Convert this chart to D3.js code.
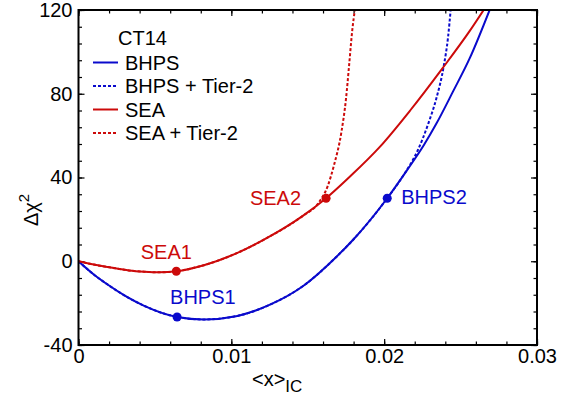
<!DOCTYPE html>
<html>
<head>
<meta charset="utf-8">
<script src="https://cdn.jsdelivr.net/npm/d3@7"></script>
<style>
  body { margin: 0; background: #fff; }
  text { font-family: "Liberation Sans", Arial, sans-serif; }
</style>
</head>
<body>
<svg id="chart"></svg>
<script>
// curves: <x>_IC vs delta chi^2
let bhpsX = [0, 0.001, 0.002, 0.003, 0.0043, 0.00645, 0.0082, 0.0104, 0.0126, 0.0147, 0.0169, 0.018, 0.0202, 0.0215, 0.0226, 0.0234, 0.0245, 0.0256, 0.0269]
let bhpsY = [0, -6.3, -11.6, -16.3, -21.3, -26.6, -27.8, -26.1, -20.5, -11.8, 2.3, 10.5, 30.1, 43.5, 55.5, 65.5, 81, 97, 120]

let bhpsT2X = [0, 0.001, 0.002, 0.003, 0.0043, 0.00645, 0.0082, 0.0104, 0.0126, 0.0147, 0.0169, 0.018, 0.0202, 0.0213, 0.0222, 0.0229, 0.0234, 0.0239, 0.02418, 0.02435]
let bhpsT2Y = [0, -6.3, -11.6, -16.3, -21.3, -26.6, -27.8, -26.1, -20.5, -11.8, 2.3, 10.5, 30.1, 41.5, 53, 66, 77.4, 93.3, 107, 120]

let seaX = [0, 0.001, 0.0021, 0.0033, 0.0043, 0.0053, 0.0064, 0.0082, 0.0104, 0.0126, 0.0147, 0.0162, 0.0178, 0.0197, 0.0217, 0.0238, 0.0256, 0.0266]
let seaY = [0, -1.6, -3.0, -4.4, -5.0, -5.3, -4.8, -1.9, 4.0, 12.2, 21.8, 30.1, 40.7, 54.5, 72, 92, 110, 121]

let seaT2X = [0, 0.001, 0.0021, 0.0033, 0.0043, 0.0053, 0.0064, 0.0082, 0.0104, 0.0126, 0.0147, 0.0157, 0.0163, 0.0167, 0.0172, 0.0175, 0.0177, 0.0179, 0.0181]
let seaT2Y = [0, -1.6, -3.0, -4.4, -5.0, -5.3, -4.8, -1.9, 4.0, 12.2, 21.8, 27.8, 35.8, 45.4, 61.6, 77.4, 93.1, 109.4, 121]

// the labelled points
let pointNames = ['SEA1', 'SEA2', 'BHPS1', 'BHPS2']
let pointX = [0.0064, 0.0162, 0.00645, 0.0202]
let pointY = [-4.8, 30.1, -26.6, 30.1]

let legendLabels = ['BHPS', 'BHPS + Tier-2', 'SEA', 'SEA + Tier-2']

let xMajor = [0, 0.01, 0.02, 0.03]
let yMajor = [-40, 0, 40, 80, 120]

let blue = '#0a0acc'
let red = '#cc0a0a'

let width = 569
let height = 396
let mLeft = 78.5, mRight = 537, mTop = 10, mBottom = 345

let svg = d3.select('#chart').attr('width', width).attr('height', height)

let xScale = d3.scaleLinear().domain([0, 0.03]).range([mLeft, mRight])
let yScale = d3.scaleLinear().domain([-40, 120]).range([mBottom, mTop])

let xMinor = d3.range(0, 0.0301, 0.002)
let yMinor = d3.range(-40, 121, 8)

// ticks, all pointing inward
let drawAxis = (axis, tx, ty) => {
    let g = svg.append('g').attr('transform', 'translate(' + tx + ',' + ty + ')').call(axis)
    g.select('.domain').remove()
    g.selectAll('line').attr('stroke', '#000').attr('stroke-width', 1.2)
    g.selectAll('text').attr('font-size', 20).attr('fill', '#000')
        .style('font-family', '"Liberation Sans", Arial, sans-serif')
    return g
}

let fmtX = (d) => d === 0 ? '0' : d3.format('.2f')(d)
let fmtY = (d) => String(d)

drawAxis(d3.axisBottom(xScale).tickValues(xMinor).tickSize(-3.5).tickFormat(''), 0, mBottom)
drawAxis(d3.axisBottom(xScale).tickValues(xMajor).tickSize(-6).tickPadding(4).tickFormat(fmtX), 0, mBottom)
drawAxis(d3.axisTop(xScale).tickValues(xMinor).tickSize(-3.5).tickFormat(''), 0, mTop)
drawAxis(d3.axisTop(xScale).tickValues(xMajor).tickSize(-6).tickFormat(''), 0, mTop)
drawAxis(d3.axisLeft(yScale).tickValues(yMinor).tickSize(-3.5).tickFormat(''), mLeft, 0)
drawAxis(d3.axisLeft(yScale).tickValues(yMajor).tickSize(-6).tickPadding(6).tickFormat(fmtY), mLeft, 0)
drawAxis(d3.axisRight(yScale).tickValues(yMinor).tickSize(-3.5).tickFormat(''), mRight, 0)
drawAxis(d3.axisRight(yScale).tickValues(yMajor).tickSize(-6).tickFormat(''), mRight, 0)

// clip curves to the frame
svg.append('clipPath').attr('id', 'plot-clip')
   .append('rect').attr('x', mLeft).attr('y', mTop).attr('width', mRight - mLeft).attr('height', mBottom - mTop)

let line = d3.line()
    .x((d) => xScale(d[0]))
    .y((d) => yScale(d[1]))
    .curve(d3.curveMonotoneX)

let series = [
    { xs: bhpsT2X, ys: bhpsT2Y, color: blue, dash: '3,2' },
    { xs: seaT2X, ys: seaT2Y, color: red, dash: '3,2' },
    { xs: bhpsX, ys: bhpsY, color: blue, dash: null },
    { xs: seaX, ys: seaY, color: red, dash: null }
]

let curves = svg.append('g').attr('clip-path', 'url(#plot-clip)')
series.forEach((s) => {
    curves.append('path')
          .datum(s.xs.map((x, i) => [x, s.ys[i]]))
          .attr('d', line)
          .attr('fill', 'none')
          .attr('stroke', s.color)
          .attr('stroke-width', 2)
          .attr('stroke-dasharray', s.dash)
})

// labelled points
let labelStyle = {
    SEA1: { dx: -10, dy: -12, anchor: 'middle', color: red },
    SEA2: { dx: -25, dy: 7, anchor: 'end', color: red },
    BHPS1: { dx: -7, dy: -13, anchor: 'start', color: blue },
    BHPS2: { dx: 14, dy: 6, anchor: 'start', color: blue }
}

pointNames.forEach((name, i) => {
    let st = labelStyle[name]
    let px = xScale(pointX[i])
    let py = yScale(pointY[i])
    svg.append('circle').attr('cx', px).attr('cy', py).attr('r', 4.5).attr('fill', st.color)
    svg.append('text')
       .attr('x', px + st.dx)
       .attr('y', py + st.dy)
       .attr('text-anchor', st.anchor)
       .attr('font-size', 20)
       .attr('fill', st.color)
       .text(name)
})

// frame
svg.append('rect')
   .attr('x', mLeft).attr('y', mTop)
   .attr('width', mRight - mLeft).attr('height', mBottom - mTop)
   .attr('fill', 'none').attr('stroke', '#000').attr('stroke-width', 2)

// legend
svg.append('text').attr('x', 118).attr('y', 45).attr('font-size', 20).text('CT14')
let legendColors = [blue, blue, red, red]
let legend = svg.append('g')
legendLabels.forEach((label, i) => {
    let yy = 62.5 + i * 23.5
    legend.append('line')
          .attr('x1', 93).attr('x2', 118).attr('y1', yy).attr('y2', yy)
          .attr('stroke', legendColors[i])
          .attr('stroke-width', 2)
          .attr('stroke-dasharray', i % 2 === 1 ? '3,2' : null)
    legend.append('text')
          .attr('x', 125).attr('y', yy + 7)
          .attr('font-size', 20)
          .text(label)
})

// axis titles
let xt = svg.append('text').attr('x', 252).attr('y', 386).attr('font-size', 20)
xt.append('tspan').text('<x>')
xt.append('tspan').attr('dy', 6).attr('font-size', 17).text('IC')

let yt = svg.append('text')
    .attr('transform', 'translate(38,' + 226 + ') rotate(-90)')
    .attr('font-size', 20)
yt.append('tspan').text('Δχ')
yt.append('tspan').attr('dy', -9).attr('font-size', 15).text('2')
</script>
</body>
</html>
